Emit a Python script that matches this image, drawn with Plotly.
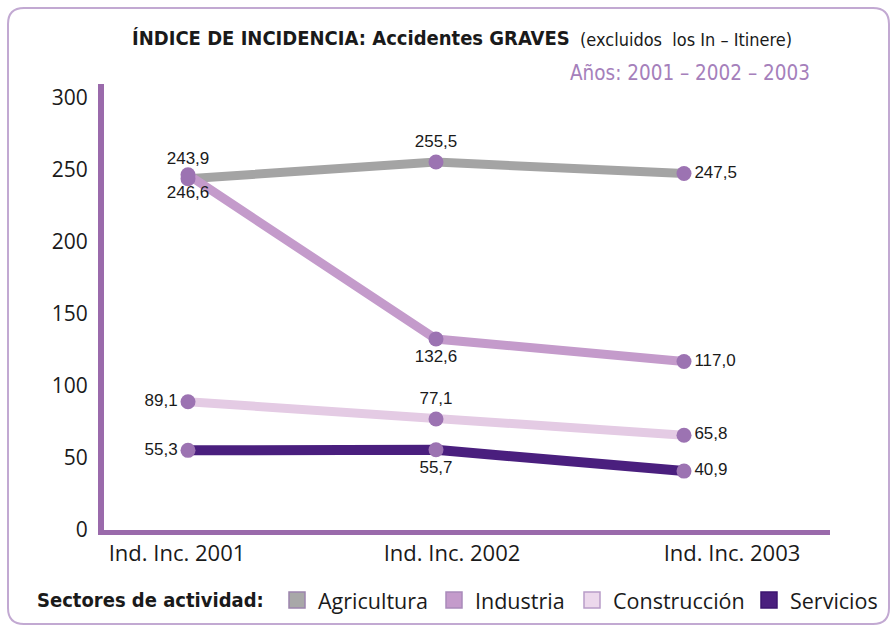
import plotly.graph_objects as go

categories = ["Ind. Inc. 2001", "Ind. Inc. 2002", "Ind. Inc. 2003"]
sectors = ["Agricultura", "Industria", "Construcción", "Servicios"]
agricultura = [243.9, 255.5, 247.5]
industria = [246.6, 132.6, 117.0]
construccion = [89.1, 77.1, 65.8]
servicios = [55.3, 55.7, 40.9]
y_ticks = [0, 50, 100, 150, 200, 250, 300]

series = [agricultura, industria, construccion, servicios]
line_colors = ["#a4a4a4", "#c49bcb", "#e4cbe4", "#4a1f7e"]
line_widths = [9, 9, 9, 10]
label_pos = [
    ["top center", "top center", "middle right"],
    ["bottom center", "bottom center", "middle right"],
    ["middle left", "top center", "middle right"],
    ["middle left", "bottom center", "middle right"],
]
legend_fill = ["#a8a8a8", "#c49bcb", "#ecd8ec", "#4a1f7e"]
legend_border = ["#9c84ad", "#a98bbb", "#b89cc8", "#3d1670"]

W, H = 896, 628
L, R, T, B = 104, 66, 84, 98
pw, ph = W - L - R, H - T - B
X0_PX, STEP_PX = 188, 248           # pixel position of first category, spacing
tick_label_px = [177, 452, 732]      # label centres in the reference

def px(x):
    return (x - L) / pw

def py(y):
    return (H - B - y) / ph

x_idx = list(range(len(categories)))
fig = go.Figure()
for vals, col, lw in zip(series, line_colors, line_widths):
    fig.add_trace(go.Scatter(x=x_idx, y=vals, mode="lines",
                             line=dict(color=col, width=lw), hoverinfo="skip"))
for vals, pos in zip(series, label_pos):
    fig.add_trace(go.Scatter(
        x=x_idx, y=vals, mode="markers+text",
        marker=dict(color="#9c73b2", size=15),
        text=[f"{v:.1f}".replace(".", ",") for v in vals],
        textposition=pos,
        textfont=dict(family="Liberation Sans, Arial", size=17, color="#1a1a1a"),
    ))

axis_col = "#9a6aab"
fig.update_layout(
    width=W, height=H, showlegend=False,
    margin=dict(l=L, r=R, t=T, b=B),
    paper_bgcolor="white", plot_bgcolor="white",
    xaxis=dict(range=[(L - X0_PX) / STEP_PX, (W - R - X0_PX) / STEP_PX],
               tickvals=[(p - X0_PX) / STEP_PX for p in tick_label_px], ticktext=categories,
               showgrid=False, zeroline=False, showline=True, linecolor=axis_col,
               linewidth=5, ticks="", tickfont=dict(family="Open Sans", size=22, color="#1a1a1a")),
    yaxis=dict(range=[0, 309.7], tickvals=y_ticks, showgrid=False, zeroline=False,
               showline=True, linecolor=axis_col, linewidth=6, ticks="", ticklen=0,
               ticklabelstandoff=6,
               tickfont=dict(family="Open Sans", size=21, color="#1a1a1a")),
)

narrow = "Liberation Sans Narrow, DejaVu Sans Condensed, Arial Narrow, Open Sans"
ann = [
    dict(x=px(130), y=py(38), text="ÍNDICE DE INCIDENCIA: Accidentes GRAVES",
         xanchor="left", font=dict(family=narrow, size=20, weight=600, color="#1a1a1a")),
    dict(x=px(578), y=py(40), text="(excluidos  los In – Itinere)",
         xanchor="left", font=dict(family=narrow, size=18, color="#1a1a1a")),
    dict(x=px(568), y=py(73), text="Años: 2001 – 2002 – 2003",
         xanchor="left", font=dict(family=narrow, size=20.5, color="#a580bb")),
    dict(x=px(35), y=py(600), text="Sectores de actividad:",
         xanchor="left", font=dict(family=narrow, size=20, weight=600, color="#1a1a1a")),
]
leg_sq_x = [289, 446, 584, 761]
shapes = []
for name, sx, fc, bc in zip(sectors, leg_sq_x, legend_fill, legend_border):
    shapes.append(dict(type="rect", xref="paper", yref="paper",
                       x0=px(sx), x1=px(sx + 16), y0=py(608), y1=py(592),
                       fillcolor=fc, line=dict(color=bc, width=1.5)))
    ann.append(dict(x=px(sx + 27), y=py(600), text=name, xanchor="left",
                    font=dict(family="Open Sans", size=21.5, color="#1a1a1a")))
for a in ann:
    a.update(xref="paper", yref="paper", showarrow=False, yanchor="middle")

# rounded outer frame
x0, x1, y0, y1, r = 8, 889, 8, 624, 16
path = (f"M {px(x0 + r)} {py(y0)} L {px(x1 - r)} {py(y0)} "
        f"Q {px(x1)} {py(y0)} {px(x1)} {py(y0 + r)} L {px(x1)} {py(y1 - r)} "
        f"Q {px(x1)} {py(y1)} {px(x1 - r)} {py(y1)} L {px(x0 + r)} {py(y1)} "
        f"Q {px(x0)} {py(y1)} {px(x0)} {py(y1 - r)} L {px(x0)} {py(y0 + r)} "
        f"Q {px(x0)} {py(y0)} {px(x0 + r)} {py(y0)} Z")
shapes.append(dict(type="path", xref="paper", yref="paper", path=path,
                   line=dict(color="#c2a9d2", width=2), layer="below"))
fig.update_layout(annotations=ann, shapes=shapes)
fig.write_html("out.html", config={"displayModeBar": False},
               post_script="document.body.style.margin='0';")
